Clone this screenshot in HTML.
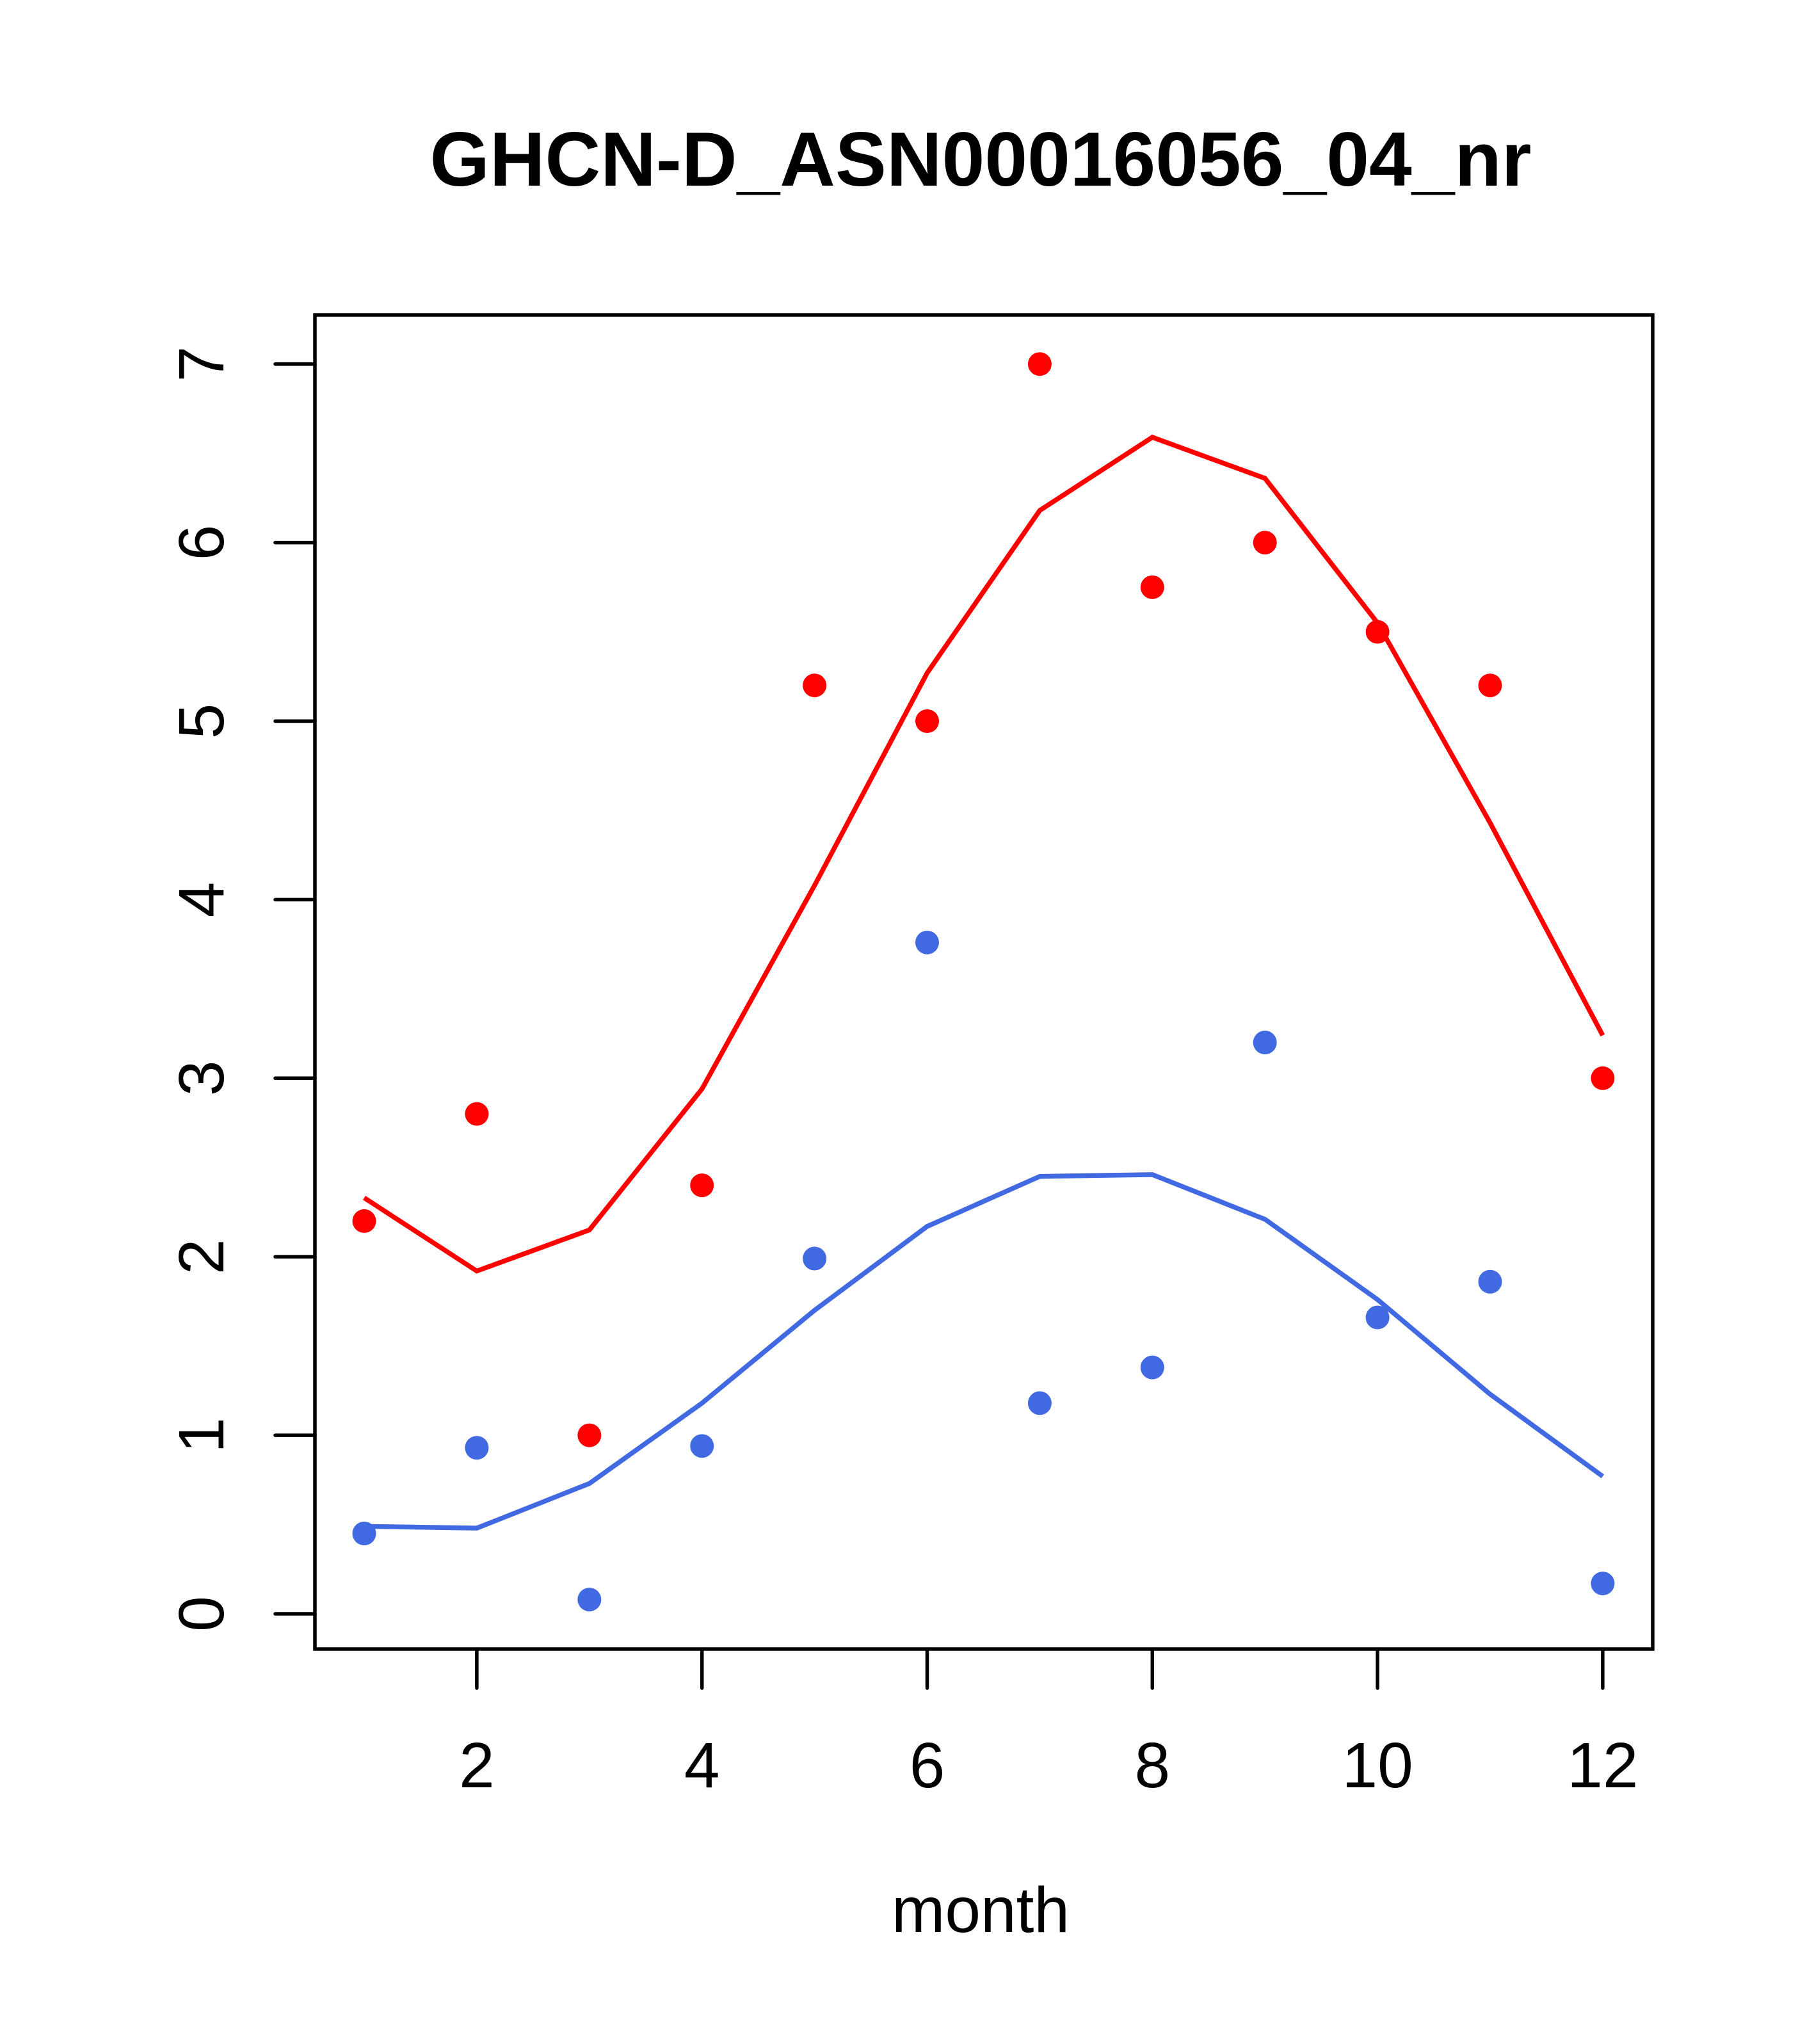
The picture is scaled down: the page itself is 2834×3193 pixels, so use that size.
<!DOCTYPE html>
<html><head><meta charset="utf-8"><style>html,body{margin:0;padding:0;background:#fff}</style></head>
<body>
<svg id="chart" width="2834" height="3188" xmlns="http://www.w3.org/2000/svg" font-family="Liberation Sans, sans-serif">
<rect width="2834" height="3188" fill="#fff"/>
<text x="1532" y="290" font-size="120" font-weight="bold" text-anchor="middle">GHCN-D_ASN00016056_04_nr</text>
<text x="1532" y="3018" font-size="100" text-anchor="middle">month</text>
<rect x="492" y="492" width="2090" height="2084" fill="none" stroke="#000" stroke-width="5.5"/>
<g id="axes"></g>
<g id="marks"></g>
</svg>
<script>
const months = [1,2,3,4,5,6,7,8,9,10,11,12];
const redPoints = [2.2,2.8,1.0,2.4,5.2,5.0,7.0,5.75,6.0,5.5,5.2,3.0];
const redLine = [2.33,1.92,2.15,2.94,4.08,5.27,6.18,6.59,6.36,5.55,4.43,3.24];
const bluePoints = [0.45,0.93,0.08,0.94,1.99,3.76,1.18,1.38,3.2,1.66,1.86,0.17];
const blueLine = [0.49,0.48,0.73,1.18,1.70,2.17,2.45,2.46,2.21,1.76,1.23,0.77];
const xTicks = [2,4,6,8,10,12];
const yTicks = [0,1,2,3,4,5,6,7];

const NS = 'http://www.w3.org/2000/svg';
function X(v){ return 569 + (v-1)*175.9; }
function Y(v){ return 2521 - v*278.9; }
function mk(tag, attrs, parent){ const e=document.createElementNS(NS,tag); for(const k in attrs) e.setAttribute(k,attrs[k]); parent.appendChild(e); return e; }
const axes=document.getElementById('axes'), marks=document.getElementById('marks');

xTicks.forEach(t=>{
  const l=mk('line',{x1:X(t),x2:X(t),y1:2576,y2:2637,stroke:'#000','stroke-width':5.5,'stroke-linecap':'round'},axes);
  
  
  const tx=mk('text',{x:X(t),y:2792,'font-size':100,'text-anchor':'middle'},axes);
  tx.textContent=t;
  
  
});
yTicks.forEach(t=>{
  const l=mk('line',{x1:430,x2:492,y1:Y(t),y2:Y(t),stroke:'#000','stroke-width':5.5,'stroke-linecap':'round'},axes);
  
  
  const tx=mk('text',{x:0,y:0,'font-size':100,'text-anchor':'middle',transform:`translate(349,${Y(t)}) rotate(-90)`},axes);
  tx.textContent=t;
  
  
});
function line(vals,color,name){
  const p=mk('polyline',{points:vals.map((v,i)=>X(months[i])+','+Y(v)).join(' '),fill:'none',stroke:color,'stroke-width':7.5},marks);
  
  
}
function pts(vals,color,name){
  vals.forEach((v,i)=>{
    const c=mk('circle',{cx:X(months[i]),cy:Y(v),r:18.5,fill:color},marks);
    
    
  });
}
line(redLine,'#FF0000','red-smooth-line');
line(blueLine,'#4169E1','blue-smooth-line');
pts(redPoints,'#FF0000','red-point');
pts(bluePoints,'#4169E1','blue-point');
</script>
</body></html>
